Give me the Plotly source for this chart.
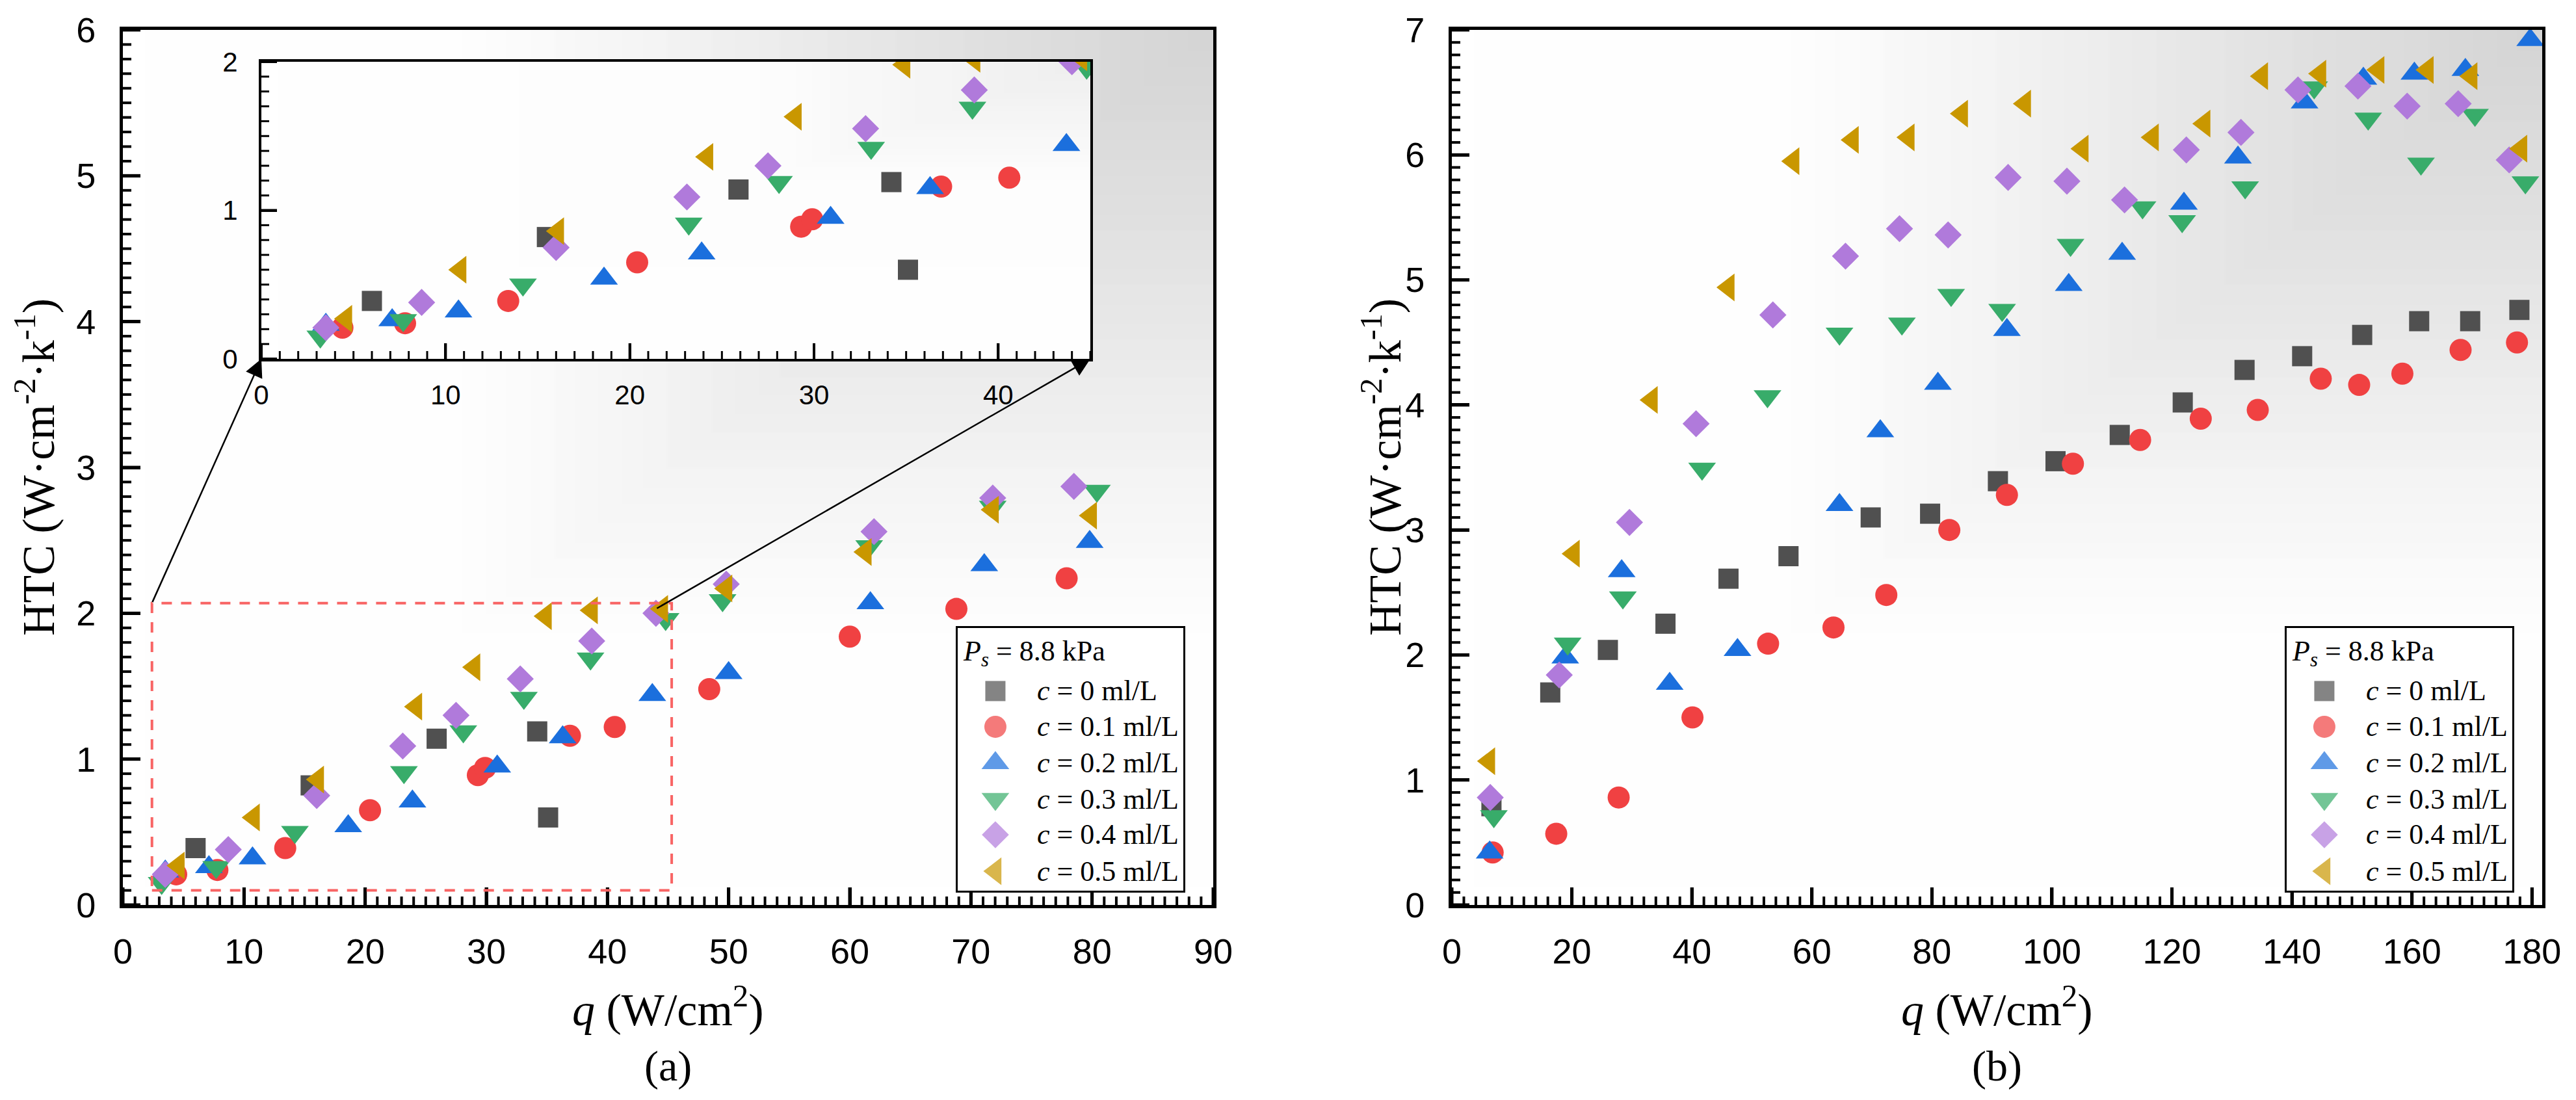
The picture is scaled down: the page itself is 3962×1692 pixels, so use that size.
import base64
import struct
import zlib

import numpy as np
import plotly.graph_objects as go

# ---------------- data ----------------
labels = ["<i>c</i> = 0 ml/L", "<i>c</i> = 0.1 ml/L", "<i>c</i> = 0.2 ml/L",
          "<i>c</i> = 0.3 ml/L", "<i>c</i> = 0.4 ml/L", "<i>c</i> = 0.5 ml/L"]
legend_title = "<i>P<sub>s</sub></i> = 8.8 kPa"

# panel (a)
qa_c0 = [6.0, 15.5, 25.9, 34.2, 35.1]
ha_c0 = [0.39, 0.82, 1.14, 1.19, 0.60]
qa_c1 = [4.4, 7.8, 13.4, 20.4, 29.3, 29.9, 36.9, 40.6, 48.4, 60.0, 68.8, 77.9]
ha_c1 = [0.21, 0.24, 0.39, 0.65, 0.89, 0.94, 1.16, 1.22, 1.48, 1.84, 2.03, 2.24]
qa_c2 = [3.5, 7.1, 10.7, 18.6, 23.9, 30.9, 36.3, 43.7, 50.0, 61.7, 71.1, 79.8]
ha_c2 = [0.23, 0.26, 0.32, 0.54, 0.71, 0.95, 1.15, 1.44, 1.59, 2.07, 2.33, 2.49]
qa_c3 = [3.2, 7.7, 14.2, 23.2, 28.1, 33.1, 38.6, 44.8, 49.5, 61.6, 71.8, 80.4]
ha_c3 = [0.15, 0.26, 0.50, 0.91, 1.19, 1.42, 1.69, 1.96, 2.09, 2.46, 2.73, 2.84]
qa_c4 = [3.5, 8.7, 16.0, 23.1, 27.5, 32.8, 38.7, 44.0, 49.8, 62.0, 71.8, 78.5]
ha_c4 = [0.21, 0.38, 0.75, 1.09, 1.30, 1.55, 1.81, 2.00, 2.20, 2.56, 2.79, 2.87]
qa_c5 = [4.6, 10.8, 16.1, 24.2, 29.0, 34.9, 38.7, 44.5, 49.8, 61.3, 71.8, 79.9]
ha_c5 = [0.27, 0.60, 0.86, 1.36, 1.63, 1.98, 2.02, 2.03, 2.17, 2.42, 2.71, 2.67]

# panel (b)
qb_c0 = [6.6, 16.4, 26.0, 35.6, 46.1, 56.1, 69.8, 79.7, 91.0, 100.6, 111.3, 121.8,
         132.1, 141.7, 151.7, 161.2, 169.7, 177.9]
hb_c0 = [0.79, 1.70, 2.04, 2.25, 2.61, 2.79, 3.10, 3.13, 3.39, 3.55, 3.76, 4.02,
         4.28, 4.39, 4.56, 4.67, 4.67, 4.76]
qb_c1 = [6.8, 17.4, 27.8, 40.1, 52.7, 63.6, 72.4, 82.9, 92.5, 103.5, 114.7, 124.8,
         134.3, 144.8, 151.2, 158.4, 168.1, 177.5]
hb_c1 = [0.42, 0.57, 0.86, 1.50, 2.09, 2.22, 2.48, 3.00, 3.28, 3.53, 3.72, 3.89,
         3.96, 4.21, 4.16, 4.25, 4.44, 4.50]
qb_c2 = [6.3, 18.9, 28.3, 36.3, 47.6, 64.6, 71.4, 81.0, 92.5, 102.8, 111.7, 122.0,
         131.0, 142.1, 151.9, 160.4, 168.9, 179.7]
hb_c2 = [0.42, 1.98, 2.67, 1.77, 2.04, 3.20, 3.79, 4.17, 4.60, 4.96, 5.21, 5.61,
         5.98, 6.42, 6.61, 6.65, 6.68, 6.92]
qb_c3 = [7.0, 19.3, 28.5, 41.7, 52.6, 64.6, 75.0, 83.2, 91.7, 103.1, 115.1, 121.7,
         132.2, 143.7, 152.7, 161.5, 170.5, 178.9]
hb_c3 = [0.71, 2.09, 2.46, 3.49, 4.07, 4.57, 4.65, 4.88, 4.76, 5.28, 5.58, 5.47,
         5.74, 6.54, 6.29, 5.93, 6.32, 5.78]
qb_c4 = [6.4, 17.9, 29.6, 40.7, 53.5, 65.6, 74.6, 82.7, 92.7, 102.5, 112.1, 122.4,
         131.5, 141.0, 151.0, 159.2, 167.7, 176.2]
hb_c4 = [0.86, 1.84, 3.06, 3.85, 4.72, 5.19, 5.41, 5.36, 5.82, 5.79, 5.64, 6.04,
         6.18, 6.52, 6.55, 6.39, 6.41, 5.96]
qb_c5 = [6.2, 20.3, 33.3, 46.1, 56.9, 66.8, 76.1, 85.0, 95.5, 105.1, 116.8, 125.4,
         135.0, 144.7, 154.4, 162.6, 169.9, 178.2]
hb_c5 = [1.15, 2.81, 4.04, 4.94, 5.95, 6.12, 6.14, 6.33, 6.41, 6.05, 6.14, 6.25,
         6.63, 6.65, 6.68, 6.68, 6.63, 6.05]

# axis settings
xa_range = [0, 90]
ya_range = [0, 6]
xb_range = [0, 181.7]
yb_range = [0, 7]
xi_range = [0, 45]
yi_range = [0, 2]
zoom_box = [2.4, 45.3, 0.10, 2.07]     # x0, x1, y0, y1 of dashed rectangle
arrow2_tail = [44.0, 2.03]

# ---------------- style ----------------
colors = ["#505050", "#F04142", "#1B6FDD", "#38AC6A", "#B07ADB", "#C99700"]
symbols = ["square", "circle", "triangle-up", "triangle-down", "diamond", "triangle-left"]
sizes = [31, 34, 37, 37, 32, 37]

W, H = 3962, 1692
def fx(p): return p / W
def fy(p): return 1 - p / H

dom_ax = [fx(189), fx(1866)]
dom_bx = [fx(2233), fx(3910)]
dom_y = [fy(1392), fy(46)]
dom_ix = [fx(402), fx(1677)]
dom_iy = [fy(552), fy(95)]
LW, LH, LR, LB = 347, 404, 46, 22
dom_lax = [fx(1866 - LR - LW), fx(1866 - LR)]
dom_lbx = [fx(3910 - LR - LW), fx(3910 - LR)]
dom_ly = [fy(1392 - LB), fy(1392 - LB - LH)]

SANS = "Liberation Sans, Arial, sans-serif"
SERIF = "Liberation Serif, Times New Roman, serif"

qa = [qa_c0, qa_c1, qa_c2, qa_c3, qa_c4, qa_c5]
ha = [ha_c0, ha_c1, ha_c2, ha_c3, ha_c4, ha_c5]
qb = [qb_c0, qb_c1, qb_c2, qb_c3, qb_c4, qb_c5]
hb = [hb_c0, hb_c1, hb_c2, hb_c3, hb_c4, hb_c5]


# ---------- background gradient images (grey toward the top-right corner) ----------
def gradient_png(stops_z, stops_g, n=320, levels=48):
    c = (np.arange(n) + 0.5) / n
    XN, YN = np.meshgrid(c, c[::-1])          # row 0 = top
    Z = np.floor(np.minimum(XN, YN) * levels) / levels
    G = np.interp(Z, stops_z, stops_g).astype(np.uint8)
    raw = b"".join(b"\x00" + row.tobytes() for row in G)

    def chunk(t, d):
        return struct.pack(">I", len(d)) + t + d + struct.pack(">I", zlib.crc32(t + d) & 0xFFFFFFFF)

    png = (b"\x89PNG\r\n\x1a\n" + chunk(b"IHDR", struct.pack(">IIBBBBB", n, n, 8, 0, 0, 0, 0))
           + chunk(b"IDAT", zlib.compress(raw, 9)) + chunk(b"IEND", b""))
    return "data:image/png;base64," + base64.b64encode(png).decode()


main_bg = gradient_png([0.0, 0.3, 0.45, 0.6, 0.75, 1.0], [255, 254, 246, 236, 226, 212])
inset_bg = gradient_png([0.0, 0.6, 1.0], [255, 253, 238])
images = []
for xr_, yr_, src in (("x", "y", main_bg), ("x2", "y2", main_bg), ("x3", "y3", inset_bg)):
    images.append(dict(source=src, xref=xr_ + " domain", yref=yr_ + " domain", x=0, y=1,
                       sizex=1, sizey=1, xanchor="left", yanchor="top",
                       sizing="stretch", layer="below"))

fig = go.Figure()

for axes, qq, hh in ((("x", "y"), qa, ha), (("x2", "y2"), qb, hb), (("x3", "y3"), qa, ha)):
    for i in range(6):
        mk = dict(symbol=symbols[i], color=colors[i], size=sizes[i], line=dict(width=0))
        fig.add_trace(go.Scatter(x=qq[i], y=hh[i], mode="markers", marker=mk,
                                 xaxis=axes[0], yaxis=axes[1], showlegend=False,
                                 name=labels[i]))


# ---------- inward tick marks drawn as line traces in each subplot ----------
def tick_values(rng, step, major_step=None):
    v = np.arange(rng[0], rng[1] + 1e-9, step)
    if major_step is not None:
        k = v / major_step
        v = v[np.abs(k - np.round(k)) > 1e-6]
    return v


def add_ticks(xid, yid, xr, yr, along, dtick, mdtick, length_px, mlength_px, span_px, lw):
    rng = xr if along == "x" else yr
    for vals, lpx, w in ((tick_values(rng, dtick), length_px, lw),
                         (tick_values(rng, mdtick, dtick), mlength_px, lw - 1)):
        xs, ys = [], []
        if along == "x":
            y0 = yr[0]
            y1 = yr[0] + lpx / span_px * (yr[1] - yr[0])
            for v in vals:
                xs += [v, v, None]
                ys += [y0, y1, None]
        else:
            x0 = xr[0]
            x1 = xr[0] + lpx / span_px * (xr[1] - xr[0])
            for v in vals:
                xs += [x0, x1, None]
                ys += [v, v, None]
        fig.add_trace(go.Scatter(x=xs, y=ys, mode="lines", xaxis=xid, yaxis=yid,
                                 line=dict(color="black", width=w), hoverinfo="skip",
                                 showlegend=False, connectgaps=False))


main_h = (dom_y[1] - dom_y[0]) * H
main_w = (dom_ax[1] - dom_ax[0]) * W
ins_h = (dom_iy[1] - dom_iy[0]) * H
ins_w = (dom_ix[1] - dom_ix[0]) * W
add_ticks("x", "y", xa_range, ya_range, "x", 10, 1, 27, 13, main_h, 5)
add_ticks("x", "y", xa_range, ya_range, "y", 1, 0.1, 27, 13, main_w, 5)
add_ticks("x2", "y2", xb_range, yb_range, "x", 20, 2, 27, 13, main_h, 5)
add_ticks("x2", "y2", xb_range, yb_range, "y", 1, 0.1, 27, 13, main_w, 5)
add_ticks("x3", "y3", xi_range, yi_range, "x", 10, 1, 24, 12, ins_h, 4)
add_ticks("x3", "y3", xi_range, yi_range, "y", 1, 0.1, 24, 12, ins_w, 4)

# custom legends (large symbols)
row_y = [0.760, 0.624, 0.486, 0.349, 0.213, 0.074]
key_x = 0.167
text_x = 0.346
annotations = []
for xa, ya in (("x4", "y4"), ("x5", "y5")):
    fig.add_trace(go.Scatter(
        x=[key_x] * 6, y=row_y, mode="markers", hoverinfo="skip",
        marker=dict(symbol=symbols, color=colors, size=sizes, line=dict(width=0)),
        xaxis=xa, yaxis=ya, showlegend=False, cliponaxis=False))
    annotations.append(dict(x=0.017, y=0.905, xref=xa, yref=ya, text=legend_title,
                            showarrow=False, xanchor="left", yanchor="middle",
                            font=dict(family=SERIF, size=44, color="black")))
    for i in range(6):
        annotations.append(dict(x=text_x, y=row_y[i], xref=xa, yref=ya, text=labels[i],
                                showarrow=False, xanchor="left", yanchor="middle",
                                font=dict(family=SERIF, size=44, color="black")))

# axis titles and panel labels
ytitle = "HTC (W·cm<sup>-2</sup>·k<sup>-1</sup>)"
xtitle = "<i>q</i> (W/cm<sup>2</sup>)"
ymid = (dom_y[0] + dom_y[1]) / 2
for x, y, t, ang, size in (
        (fx(54), ymid, ytitle, -90, 70),
        (fx(2125), ymid, ytitle, -90, 70),
        ((dom_ax[0] + dom_ax[1]) / 2, fy(1548), xtitle, 0, 70),
        ((dom_bx[0] + dom_bx[1]) / 2, fy(1548), xtitle, 0, 70),
        ((dom_ax[0] + dom_ax[1]) / 2, fy(1640), "(a)", 0, 66),
        ((dom_bx[0] + dom_bx[1]) / 2, fy(1640), "(b)", 0, 66)):
    annotations.append(dict(x=x, y=y, xref="paper", yref="paper", text=t, textangle=ang,
                            showarrow=False, xanchor="center", yanchor="middle",
                            font=dict(family=SERIF, size=size, color="black")))


def main_x(pf):
    return xa_range[0] + (pf - dom_ax[0]) / (dom_ax[1] - dom_ax[0]) * (xa_range[1] - xa_range[0])


def main_y(pf):
    return ya_range[0] + (pf - dom_y[0]) / (dom_y[1] - dom_y[0]) * (ya_range[1] - ya_range[0])


for (tx, ty), hxp in (((zoom_box[0], zoom_box[3]), dom_ix[0]),
                      ((arrow2_tail[0], arrow2_tail[1]), dom_ix[1])):
    annotations.append(dict(x=main_x(hxp), y=main_y(dom_iy[0]), xref="x", yref="y",
                            ax=tx, ay=ty, axref="x", ayref="y", text="", showarrow=True,
                            arrowhead=2, arrowsize=2.2, arrowwidth=2.5, arrowcolor="black",
                            standoff=0, startstandoff=0))

shapes = [dict(type="rect", xref="x", yref="y", x0=zoom_box[0], x1=zoom_box[1],
               y0=zoom_box[2], y1=zoom_box[3], layer="above",
               line=dict(color="#F86464", width=4, dash="16px,14px"))]


def main_axis(dom, rng, dtick, anchor, standoff, fsize=54, lw=5, tlen=27):
    return dict(domain=dom, range=rng, anchor=anchor, showgrid=False, zeroline=False,
                showline=True, mirror=True, linecolor="black", linewidth=lw,
                ticks="inside", ticklen=tlen, tickwidth=lw, tickcolor="black",
                tickmode="linear", tick0=0, dtick=dtick,
                ticklabelstandoff=standoff, automargin=False, fixedrange=True,
                tickfont=dict(family=SANS, size=fsize, color="black"))


def leg_axis(dom, anchor):
    return dict(domain=dom, range=[0, 1], anchor=anchor, showgrid=False, zeroline=False,
                showline=True, mirror=True, linecolor="black", linewidth=2.5,
                ticks="", showticklabels=False, fixedrange=True, automargin=False)


fig.update_layout(
    width=W, height=H, margin=dict(l=0, r=0, t=0, b=0, pad=0, autoexpand=False),
    paper_bgcolor="white", plot_bgcolor="white", showlegend=False,
    xaxis=main_axis(dom_ax, xa_range, 10, "y", 20),
    yaxis=main_axis(dom_y, ya_range, 1, "x", 26),
    xaxis2=main_axis(dom_bx, xb_range, 20, "y2", 20),
    yaxis2=main_axis(dom_y, yb_range, 1, "x2", 26),
    xaxis3=main_axis(dom_ix, xi_range, 10, "y3", 16, fsize=42, lw=4, tlen=24),
    yaxis3=main_axis(dom_iy, yi_range, 1, "x3", 24, fsize=42, lw=4, tlen=24),
    xaxis4=leg_axis(dom_lax, "y4"), yaxis4=leg_axis(dom_ly, "x4"),
    xaxis5=leg_axis(dom_lbx, "y5"), yaxis5=leg_axis(dom_ly, "x5"),
    annotations=annotations, shapes=shapes, images=images,
)

fig.write_html("out.html", include_plotlyjs=True, config={"displayModeBar": False},
               post_script="document.body.style.margin='0px';document.body.style.overflow='hidden';")
